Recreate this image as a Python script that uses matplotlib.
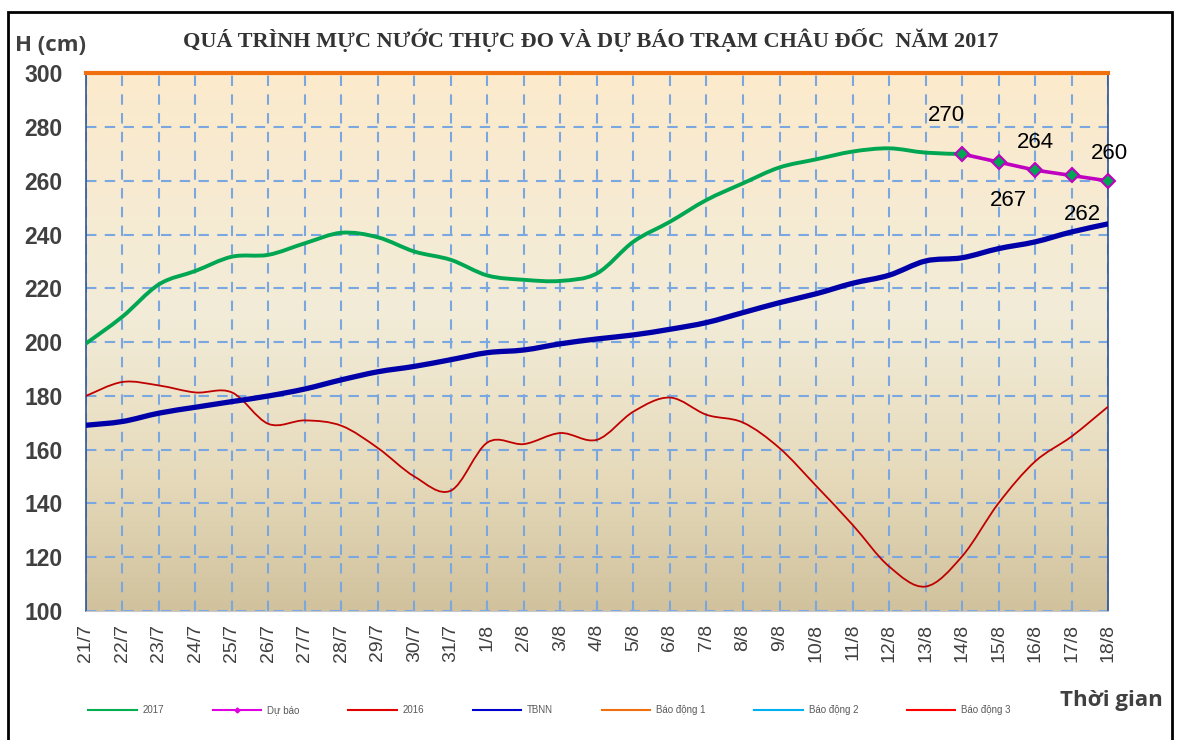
import numpy as np
import matplotlib
matplotlib.use("Agg")
import matplotlib.pyplot as plt
from matplotlib.path import Path
from matplotlib.patches import PathPatch, Rectangle
from matplotlib.lines import Line2D
from matplotlib.colors import LinearSegmentedColormap

# Dates on the x axis
dates = [f"{d}/7" for d in range(21, 32)] + [f"{d}/8" for d in range(1, 19)]

# Observed 2017 water level (21/7 - 14/8)
h2017 = [199.5, 209.5, 221.5, 226.5, 231.8, 232.5, 236.8, 240.7, 239.0, 233.7,
         230.6, 224.8, 223.2, 222.8, 225.6, 237.4, 244.8, 252.9, 259.1, 265.0,
         268.0, 270.9, 272.1, 270.5, 270.0]

# Forecast (14/8 - 18/8)
forecast = [270, 267, 264, 262, 260]

# Same period 2016
h2016 = [180.0, 185.2, 183.9, 181.3, 181.3, 169.6, 170.9, 168.9, 160.6, 150.0,
         144.8, 162.7, 162.1, 166.2, 163.7, 174.2, 179.4, 173.0, 170.1, 160.6,
         146.6, 132.1, 116.6, 109.1, 120.3, 140.1, 155.6, 164.9, 176.0]

# Long-term average (TBNN)
tbnn = [169.1, 170.5, 173.6, 175.8, 177.9, 180.0, 182.6, 186.0, 189.0, 191.0,
        193.5, 196.1, 197.1, 199.4, 201.2, 202.7, 204.8, 207.3, 211.0, 214.7,
        218.0, 221.9, 224.9, 230.2, 231.4, 234.8, 237.3, 241.0, 244.0]

bao_dong_1 = 300
yticks = [100, 120, 140, 160, 180, 200, 220, 240, 260, 280, 300]


def smooth_path(x, y):
    # Excel style smoothed line: cubic Bezier through every point
    pts = np.column_stack([x, y]).astype(float)
    verts = [pts[0]]
    codes = [Path.MOVETO]
    n = len(pts)
    for i in range(n - 1):
        p0 = pts[max(i - 1, 0)]
        p1 = pts[i]
        p2 = pts[i + 1]
        p3 = pts[min(i + 2, n - 1)]
        c1 = p1 + (p2 - p0) / 6.0
        c2 = p2 - (p3 - p1) / 6.0
        verts += [c1, c2, p2]
        codes += [Path.CURVE4] * 3
    return Path(verts, codes)


fig = plt.figure(figsize=(11.79, 7.40), dpi=100)
ax = fig.add_axes([0.0729, 0.1743, 0.9398 - 0.0729, 0.9009 - 0.1743])

x = np.arange(len(dates))
ax.set_xlim(0, len(dates) - 1)
ax.set_ylim(100, 300)

# background gradient (cream at top, tan at bottom)
cmap = LinearSegmentedColormap.from_list(
    "bg", [(0, "#FCEACC"), (0.45, "#F2ECD8"), (0.75, "#E6DABB"), (1, "#D1C29D")])
grad = np.linspace(0, 1, 256).reshape(-1, 1)
ax.imshow(grad, cmap=cmap, aspect="auto", origin="upper",
          extent=[0, len(dates) - 1, 100, 300], zorder=0)

ax.set_xticks(x)
ax.set_yticks(yticks)
ax.grid(True, color="#7BA7E0", linestyle=(0, (5, 4)), linewidth=1.5, zorder=1)
ax.set_axisbelow(True)

# series
ax.add_patch(PathPatch(smooth_path(x[:len(h2016)], h2016), fill=False,
                       edgecolor="#C00000", linewidth=1.3, zorder=3))
ax.add_patch(PathPatch(smooth_path(x[:len(tbnn)], tbnn), fill=False,
                       edgecolor="#0000A8", linewidth=3.8, zorder=4,
                       capstyle="round"))
ax.add_patch(PathPatch(smooth_path(x[:len(h2017)], h2017), fill=False,
                       edgecolor="#00A651", linewidth=2.8, zorder=5,
                       capstyle="round"))
xf = x[len(h2017) - 1:len(h2017) - 1 + len(forecast)]
ax.plot(xf, forecast, color="#C000C0", linewidth=2.6, marker="D",
        markersize=7, markerfacecolor="#00A651", markeredgecolor="#C000C0",
        markeredgewidth=1.5, zorder=6, clip_on=False)
ax.axhline(bao_dong_1, color="#F07010", linewidth=3, zorder=7, clip_on=False)

# forecast labels
offsets = [(-11, 28), (7, -28), (0, 20), (8, -28), (1, 20)]
for xi, v, off in zip(xf, forecast, offsets):
    ax.annotate(f"{v}", (xi, v), xytext=off, textcoords="offset points",
                ha="center", va="center", fontsize=16, color="black",
                family="Liberation Sans", zorder=8)

# axes style
for s in ["left", "right"]:
    ax.spines[s].set_color("#2F5597")
    ax.spines[s].set_linewidth(1.2)
ax.spines["top"].set_visible(False)
ax.spines["bottom"].set_color("#C8C8C8")
ax.tick_params(length=0)
ax.tick_params(axis="y", pad=17)
ax.tick_params(axis="x", pad=9)
ax.set_xticklabels(dates, rotation=90, fontsize=14, color="#404040",
                   family="Liberation Sans")
ax.set_yticklabels([str(v) for v in yticks], fontsize=16.5, fontweight="bold",
                   color="#404040", family="Liberation Sans")

fig.text(0.501, 0.946, "QUÁ TRÌNH MỰC NƯỚC THỰC ĐO VÀ DỰ BÁO TRẠM CHÂU ĐỐC  NĂM 2017",
         ha="center", va="center", fontsize=16, fontweight="bold",
         family="Liberation Serif", color="#333333")
fig.text(0.013, 0.938, "H (cm)", ha="left", va="center", fontsize=16,
         fontweight="bold", family="Open Sans", color="#404040")
fig.text(0.986, 0.053, "Thời gian", ha="right", va="center", fontsize=16,
         fontweight="bold", family="Open Sans", color="#404040")

# legend
handles = [
    Line2D([], [], color="#00B050", lw=1.5),
    Line2D([], [], color="#E000E0", lw=1.5, marker="D", markersize=2.5),
    Line2D([], [], color="#E00000", lw=1.5),
    Line2D([], [], color="#0000CC", lw=1.5),
    Line2D([], [], color="#F07010", lw=1.5),
    Line2D([], [], color="#00B0F0", lw=1.5),
    Line2D([], [], color="#FF0000", lw=1.5),
]
labels = ["2017", "Dự báo", "2016", "TBNN", "Báo động 1", "Báo động 2", "Báo động 3"]
leg = fig.legend(handles, labels, loc="center", bbox_to_anchor=(0.466, 0.04),
                 ncol=7, frameon=False, handlelength=5, columnspacing=5.0,
                 handletextpad=0.6, prop={"family": "Liberation Sans", "size": 7})
for t in leg.get_texts():
    t.set_color("#595959")

# outer frame
fig.patches.append(Rectangle((0.0068, -0.05), 0.9873, 1.034, transform=fig.transFigure,
                             fill=False, edgecolor="black", linewidth=2))

fig.savefig("out.png", dpi=100)
